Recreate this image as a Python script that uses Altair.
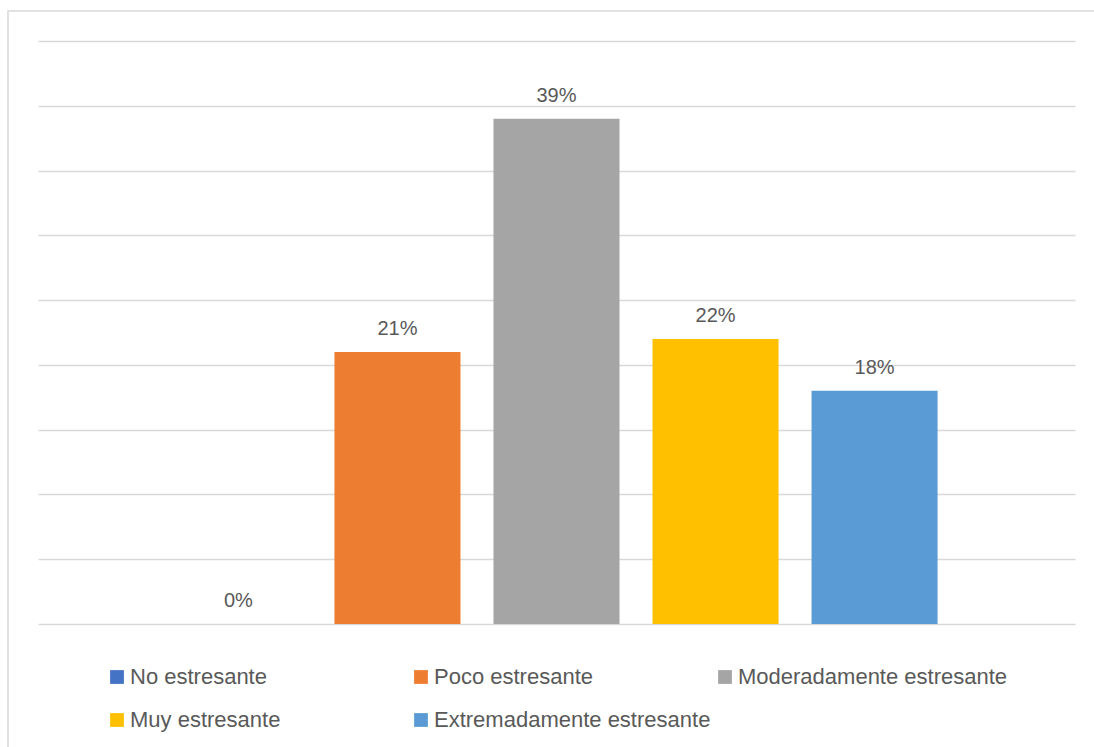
import altair as alt
import pandas as pd

categories = ["No estresante", "Poco estresante", "Moderadamente estresante",
              "Muy estresante", "Extremadamente estresante"]
values = [0, 21, 39, 22, 18]
labels = ["0%", "21%", "39%", "22%", "18%"]
colors = ["#4472C4", "#ED7D31", "#A5A5A5", "#FFC000", "#5B9BD5"]

df = pd.DataFrame({"cat": categories, "val": values, "lab": labels})

W, H = 1037, 583
FONT = "Liberation Sans"
TXT = "#595959"

x = alt.X("cat:N", sort=categories, axis=None,
          scale=alt.Scale(paddingInner=0.2075, paddingOuter=0.864))
y = alt.Y("val:Q", scale=alt.Scale(domain=[0, 45], nice=False),
          axis=alt.Axis(values=list(range(0, 50, 5)), labels=False, ticks=False,
                        domain=False, title=None, grid=True,
                        gridColor="#d9d9d9", gridWidth=1.4))

bars = alt.Chart(df).mark_bar().encode(
    x=x, y=y,
    color=alt.Color("cat:N", sort=categories,
                    scale=alt.Scale(domain=categories, range=colors),
                    legend=alt.Legend(
                        title=None, orient="none", legendX=68, legendY=625,
                        direction="horizontal", columns=3, gridAlign="all",
                        columnPadding=3, rowPadding=21,
                        symbolType="square", symbolSize=190, symbolStrokeWidth=0,
                        labelFont=FONT, labelFontSize=22, labelColor=TXT,
                        labelOffset=2, labelLimit=400)),
)

text = alt.Chart(df).mark_text(font=FONT, fontSize=20, color=TXT,
                               baseline="alphabetic", dy=-17).encode(
    x=alt.X("cat:N", sort=categories), y=alt.Y("val:Q"), text="lab:N")

border = alt.Chart(alt.Data(values=[{}])).mark_rect(
    fillOpacity=0, stroke="#d9d9d9", strokeWidth=1.5).encode(
    x=alt.value(-30), x2=alt.value(W + 200), y=alt.value(-30), y2=alt.value(H + 300))

chart = alt.layer(border, bars, text).properties(
    width=W, height=H,
    padding={"left": 38, "top": 41, "right": 19, "bottom": 123},
    autosize=alt.AutoSizeParams(type="none"),
    background="white",
).configure_view(stroke=None)

chart.save("out.html", embed_options={"renderer": "svg", "actions": False})
